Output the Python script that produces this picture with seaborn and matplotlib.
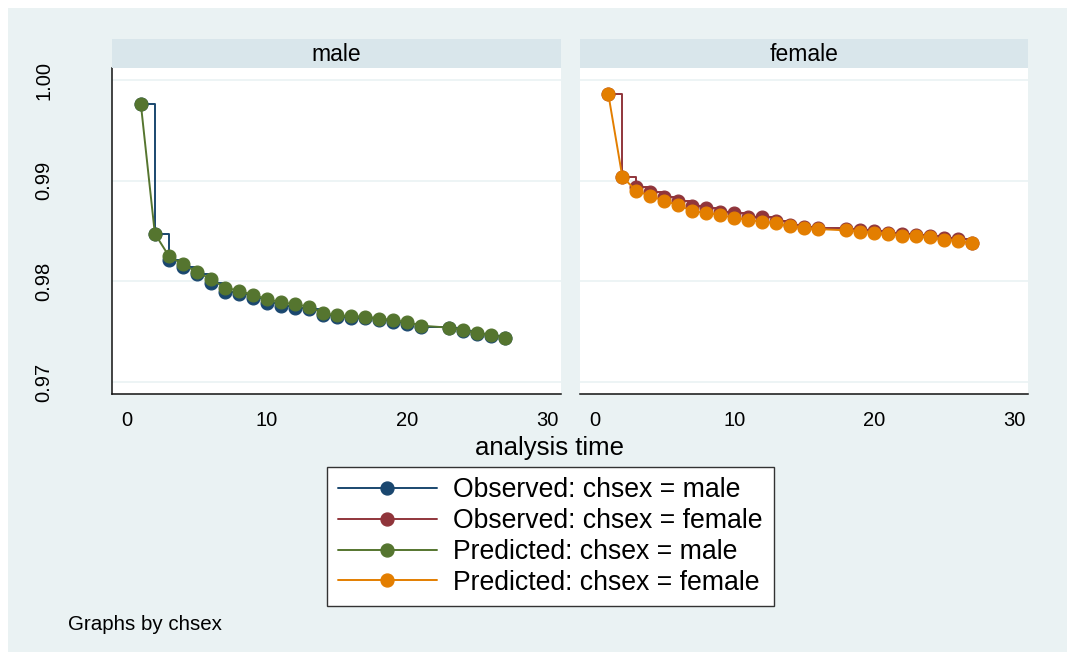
import matplotlib
matplotlib.use("Agg")
import matplotlib.pyplot as plt
from matplotlib.lines import Line2D
from matplotlib.patches import Rectangle
import seaborn as sns
import pandas as pd

# Survival estimates by analysis time, observed (Kaplan-Meier) and predicted
male_t = [1, 2, 3, 4, 5, 6, 7, 8, 9, 10, 11, 12, 13, 14, 15, 16, 17, 18, 19, 20, 21,
          23, 24, 25, 26, 27]
male_obs = [0.99762, 0.98474, 0.98213, 0.98140, 0.98070, 0.97980, 0.97890, 0.97870,
            0.97830, 0.97790, 0.97760, 0.97740, 0.97730, 0.97670, 0.97650, 0.97640,
            0.97635, 0.97615, 0.97600, 0.97580, 0.97545, 0.97535, 0.97505, 0.97478,
            0.97462, 0.97441]
male_pred = [0.99762, 0.98474, 0.98252, 0.98170, 0.98093, 0.98024, 0.97937, 0.97908,
             0.97865, 0.97825, 0.97792, 0.97772, 0.97749, 0.97683, 0.97663, 0.97653,
             0.97650, 0.97630, 0.97617, 0.97594, 0.97560, 0.97540, 0.97517, 0.97484,
             0.97467, 0.97441]

female_t = [1, 2, 3, 4, 5, 6, 7, 8, 9, 10, 11, 12, 13, 14, 15, 16,
            18, 19, 20, 21, 22, 23, 24, 25, 26, 27]
female_obs = [0.99861, 0.99040, 0.98941, 0.98884, 0.98835, 0.98801, 0.98749, 0.98726,
              0.98692, 0.98676, 0.98643, 0.98636, 0.98600, 0.98560, 0.98540, 0.98530,
              0.98525, 0.98512, 0.98497, 0.98484, 0.98470, 0.98460, 0.98450, 0.98430,
              0.98420, 0.98385]
female_pred = [0.99861, 0.99040, 0.98898, 0.98851, 0.98798, 0.98759, 0.98696, 0.98682,
               0.98659, 0.98633, 0.98610, 0.98593, 0.98577, 0.98550, 0.98530, 0.98520,
               0.98507, 0.98494, 0.98484, 0.98468, 0.98454, 0.98448, 0.98438, 0.98411,
               0.98404, 0.98378]

panels = ["male", "female"]
x_ticks = [0, 10, 20, 30]
y_ticks = [0.97, 0.98, 0.99, 1.00]
y_tick_labels = ["0.97", "0.98", "0.99", "1.00"]
legend_labels = ["Observed: chsex = male", "Observed: chsex = female",
                 "Predicted: chsex = male", "Predicted: chsex = female"]

NAVY, MAROON, GREEN, ORANGE = "#1A476F", "#90353B", "#55752F", "#E37E00"
BG = "#EAF2F3"
STRIP = "#D9E6EB"
INK = "#111111"

sns.set_style("white")
plt.rcParams["font.family"] = ["Liberation Sans", "DejaVu Sans"]
plt.rcParams["text.color"] = "black"
plt.rcParams["axes.labelcolor"] = "black"
plt.rcParams["xtick.color"] = "black"
plt.rcParams["ytick.color"] = "black"

W, H = 1067, 655
fig = plt.figure(figsize=(W / 100, H / 100), dpi=100, facecolor="white")
fig.patches.append(Rectangle((8 / W, 1 - 652 / H), 1 - 8 / W, (652 - 8) / H,
                             transform=fig.transFigure, facecolor=BG,
                             edgecolor="none", zorder=-10))

def fx(px):
    return px / W

def fy(py):
    return 1 - py / H

plot_top, plot_bot = 68, 394
strip_top = 39
lefts = [112, 579.5]
rights = [561, 1028]

frames = {
    "male": (pd.DataFrame({"t": male_t, "S": male_obs}),
             pd.DataFrame({"t": male_t, "S": male_pred}), NAVY, GREEN),
    "female": (pd.DataFrame({"t": female_t, "S": female_obs}),
               pd.DataFrame({"t": female_t, "S": female_pred}), MAROON, ORANGE),
}

MS = 9.3
LW = 1.4

for i, name in enumerate(panels):
    l, r = lefts[i], rights[i]
    ax = fig.add_axes([fx(l), fy(plot_bot), fx(r - l), (plot_bot - plot_top) / H])
    ax.set_facecolor("white")
    obs, pred, c_obs, c_pred = frames[name]
    for yv in y_ticks:
        ax.axhline(yv, color=BG, lw=1.2, zorder=0)
    sns.lineplot(data=obs, x="t", y="S", ax=ax, color=c_obs, lw=LW,
                 drawstyle="steps-post", marker="o", markersize=MS,
                 markeredgecolor=c_obs, markeredgewidth=0.8, estimator=None,
                 legend=False, zorder=3)
    sns.lineplot(data=pred, x="t", y="S", ax=ax, color=c_pred, lw=LW,
                 marker="o", markersize=MS, markeredgecolor=c_pred,
                 markeredgewidth=0.8, estimator=None, legend=False, zorder=4)
    ax.set_xlim(-1.06, 31.0)
    ax.set_ylim(0.96881, 1.0012)
    ax.set_xlabel("")
    ax.set_ylabel("")
    ax.set_xticks(x_ticks)
    ax.set_xticklabels([str(v) for v in x_ticks], fontsize=14.5)
    ax.tick_params(axis="x", direction="out", length=6, width=1.0,
                   color=INK, pad=6, labelcolor="black")
    for s in ["top", "right"]:
        ax.spines[s].set_visible(False)
    ax.spines["bottom"].set_color(INK)
    ax.spines["bottom"].set_linewidth(1.1)
    if i == 0:
        ax.set_yticks(y_ticks)
        ax.set_yticklabels(y_tick_labels, fontsize=14.5, rotation=90, va="center")
        ax.tick_params(axis="y", direction="out", length=6, width=1.0,
                       color=INK, pad=36, labelcolor="black")
        ax.spines["left"].set_color(INK)
        ax.spines["left"].set_linewidth(1.1)
    else:
        ax.set_yticks([])
        ax.spines["left"].set_visible(False)

    sax = fig.add_axes([fx(l), fy(plot_top), fx(r - l), (plot_top - strip_top) / H])
    sax.set_facecolor(STRIP)
    sax.set_xticks([])
    sax.set_yticks([])
    for s in sax.spines.values():
        s.set_visible(False)
    sax.text(0.5, 0.47, name, ha="center", va="center", fontsize=16.5,
             transform=sax.transAxes)

fig.text(fx(550), fy(448), "analysis time", ha="center", va="center", fontsize=18.5)

handles = [Line2D([], [], color=c, lw=LW, marker="o", markersize=MS,
                  markeredgecolor=c) for c in (NAVY, MAROON, GREEN, ORANGE)]
leg = fig.legend(handles, legend_labels, loc="center",
                 bbox_to_anchor=(fx(550.5), fy(536.5)), fontsize=19.2,
                 frameon=True, fancybox=False, framealpha=1.0, handlelength=3.7,
                 handletextpad=0.62, labelspacing=0.18, borderpad=0.4,
                 borderaxespad=0)
leg.get_frame().set_edgecolor("#333333")
leg.get_frame().set_linewidth(1.0)
leg.get_frame().set_facecolor("white")

fig.text(fx(68), fy(625), "Graphs by chsex", ha="left", va="center", fontsize=14.8)

fig.savefig("out.png", dpi=100, facecolor="white")
